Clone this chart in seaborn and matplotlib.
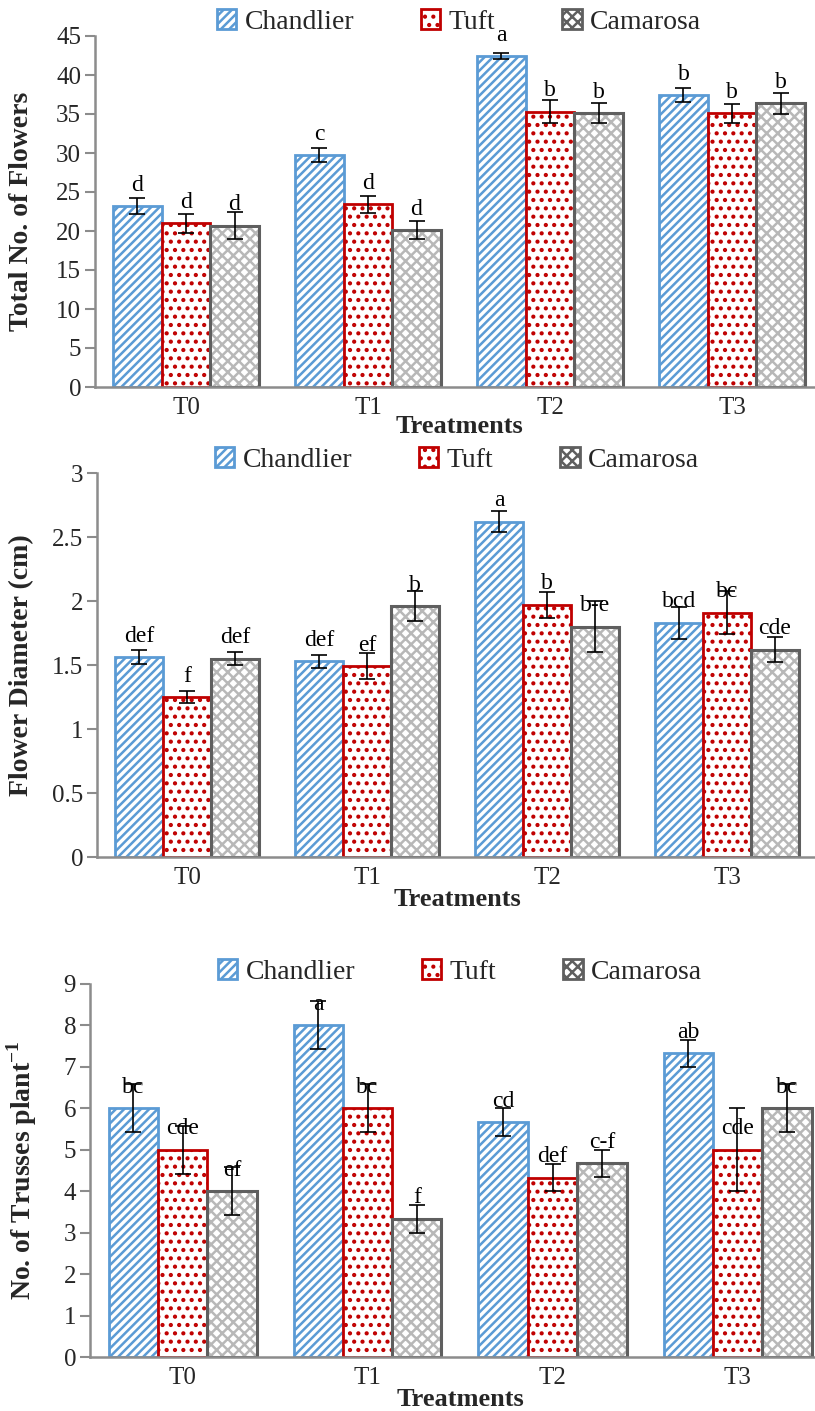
import numpy as np
import pandas as pd
import matplotlib
matplotlib.use('Agg')
import matplotlib.pyplot as plt
import seaborn as sns
from matplotlib.patches import Patch, Rectangle
from matplotlib.ticker import MultipleLocator, FuncFormatter

# --- data ---
treatments = ['T0', 'T1', 'T2', 'T3']
cultivars = ['Chandlier', 'Tuft', 'Camarosa']

# Total No. of Flowers
flowers_chandlier = [23.2, 29.7, 42.4, 37.4]
flowers_tuft = [21.0, 23.4, 35.3, 35.1]
flowers_camarosa = [20.7, 20.1, 35.1, 36.4]
flowers_err_chandlier = [1.0, 0.9, 0.4, 0.9]
flowers_err_tuft = [1.2, 1.1, 1.5, 1.2]
flowers_err_camarosa = [1.7, 1.15, 1.25, 1.35]
flowers_let_chandlier = ['d', 'c', 'a', 'b']
flowers_let_tuft = ['d', 'd', 'b', 'b']
flowers_let_camarosa = ['d', 'd', 'b', 'b']

# Flower Diameter (cm)
diam_chandlier = [1.56, 1.53, 2.62, 1.83]
diam_tuft = [1.25, 1.49, 1.97, 1.91]
diam_camarosa = [1.55, 1.96, 1.80, 1.62]
diam_err_chandlier = [0.055, 0.05, 0.08, 0.125]
diam_err_tuft = [0.05, 0.10, 0.10, 0.17]
diam_err_camarosa = [0.05, 0.115, 0.20, 0.10]
diam_let_chandlier = ['def', 'def', 'a', 'bcd']
diam_let_tuft = ['f', 'ef', 'b', 'bc']
diam_let_camarosa = ['def', 'b', 'b-e', 'cde']

# No. of Trusses plant-1
trusses_chandlier = [6.0, 8.0, 5.67, 7.33]
trusses_tuft = [5.0, 6.0, 4.33, 5.0]
trusses_camarosa = [4.0, 3.33, 4.67, 6.0]
trusses_err_chandlier = [0.58, 0.58, 0.33, 0.33]
trusses_err_tuft = [0.58, 0.58, 0.33, 1.0]
trusses_err_camarosa = [0.58, 0.33, 0.33, 0.58]
trusses_let_chandlier = ['bc', 'a', 'cd', 'ab']
trusses_let_tuft = ['cde', 'bc', 'def', 'cde']
trusses_let_camarosa = ['ef', 'f', 'c-f', 'bc']

# --- styling ---
sns.set_theme(style='white')
plt.rcParams['font.family'] = ['Liberation Serif', 'DejaVu Serif']
plt.rcParams['mathtext.fontset'] = 'custom'
plt.rcParams['mathtext.rm'] = 'Liberation Serif'
plt.rcParams['mathtext.bf'] = 'Liberation Serif:bold'
plt.rcParams['hatch.linewidth'] = 1.8

hatches = ['////', '..', 'xxx']
hatch_colors = ['#5b9bd5', '#c00000', '#b8b8b8']
edge_colors = ['#5b9bd5', '#c00000', '#5f5f5f']
axis_gray = '#8c8c8c'


def make_frame(ch, tu, ca):
    return pd.DataFrame({
        'Treatment': treatments * 3,
        'Cultivar': np.repeat(cultivars, len(treatments)),
        'value': ch + tu + ca,
    })


def draw_panel(ax, df, errs, letters, ylabel, ymax, ystep, ylab_x, leg_y, xlab_y):
    sns.barplot(data=df, x='Treatment', y='value', hue='Cultivar',
                hue_order=cultivars, order=treatments, palette=['white'] * 3,
                errorbar=None, width=0.8, gap=0, ax=ax, legend=False)
    bar_groups = list(ax.containers)
    for i, cont in enumerate(bar_groups):
        xs, ys = [], []
        for p in cont.patches:
            p.set_facecolor('white')
            p.set_hatch(hatches[i])
            p.set_edgecolor(hatch_colors[i])
            p.set_linewidth(2.0)
            if i == 2:
                # darker outline over the lighter hatch
                ax.add_patch(Rectangle(p.get_xy(), p.get_width(), p.get_height(),
                                       fill=False, edgecolor=edge_colors[i],
                                       linewidth=2.2, zorder=p.get_zorder() + 0.1))
            xs.append(p.get_x() + p.get_width() / 2)
            ys.append(p.get_height())
        ax.errorbar(xs, ys, yerr=errs[i], fmt='none', ecolor='black',
                    elinewidth=1.2, capsize=6, capthick=1.2, zorder=5)
        for x, y, t in zip(xs, ys, letters[i]):
            ax.annotate(t, (x, y), xytext=(0, 21), textcoords='offset pixels',
                        ha='center', va='center', fontsize=17, color='black', zorder=6)

    ax.set_xlim(-0.5, 3.5)
    ax.set_ylim(0, ymax)
    ax.yaxis.set_major_locator(MultipleLocator(ystep))
    ax.yaxis.set_major_formatter(FuncFormatter(lambda v, pos: '{:g}'.format(round(v, 2))))
    ax.set_xticks(range(4))
    ax.set_xticklabels(treatments)
    ax.set_xticks([-0.5, 0.5, 1.5, 2.5, 3.5], minor=True)
    ax.tick_params(axis='x', which='major', length=0, labelsize=18, pad=7)
    ax.tick_params(axis='x', which='minor', length=7, width=1.5, color=axis_gray, direction='out')
    ax.tick_params(axis='y', length=7, width=1.5, color=axis_gray, direction='out',
                   labelsize=18, left=True, pad=3)
    for side in ['top', 'right']:
        ax.spines[side].set_visible(False)
    for side in ['left', 'bottom']:
        ax.spines[side].set_color(axis_gray)
        ax.spines[side].set_linewidth(1.8)

    ax.set_ylabel(ylabel, fontsize=20, fontweight='bold')
    ax.yaxis.set_label_coords(ylab_x, 0.5)
    ax.set_xlabel('Treatments', fontsize=19, fontweight='bold')
    ax.xaxis.set_label_coords(0.5, xlab_y)

    handles = [Patch(facecolor='white', edgecolor=edge_colors[i] if i == 2 else hatch_colors[i],
                     hatch=hatches[i], linewidth=2.0) for i in range(3)]
    ax.legend(handles, cultivars, loc='center', bbox_to_anchor=(0.5, leg_y), ncol=3,
              frameon=False, fontsize=20, handlelength=0.7, handleheight=0.7,
              handletextpad=0.3, columnspacing=2.4, borderaxespad=0)


fig = plt.figure(figsize=(8.15, 14.11), dpi=100)
H = 1411.0
W = 815.0
ax1 = fig.add_axes([95 / W, (H - 387) / H, 728 / W, 351 / H])
ax2 = fig.add_axes([97 / W, (H - 857) / H, 720 / W, 384 / H])
ax3 = fig.add_axes([90 / W, (H - 1357) / H, 740 / W, 373 / H])

draw_panel(ax1, make_frame(flowers_chandlier, flowers_tuft, flowers_camarosa),
           [flowers_err_chandlier, flowers_err_tuft, flowers_err_camarosa],
           [flowers_let_chandlier, flowers_let_tuft, flowers_let_camarosa],
           'Total No. of Flowers', 45, 5, -0.084, 1.04, -0.08)

draw_panel(ax2, make_frame(diam_chandlier, diam_tuft, diam_camarosa),
           [diam_err_chandlier, diam_err_tuft, diam_err_camarosa],
           [diam_let_chandlier, diam_let_tuft, diam_let_camarosa],
           'Flower Diameter (cm)', 3, 0.5, -0.0875, 1.034, -0.082)

draw_panel(ax3, make_frame(trusses_chandlier, trusses_tuft, trusses_camarosa),
           [trusses_err_chandlier, trusses_err_tuft, trusses_err_camarosa],
           [trusses_let_chandlier, trusses_let_tuft, trusses_let_camarosa],
           r'No. of Trusses plant$^{\mathbf{-1}}$', 9, 1, -0.069, 1.032, -0.082)

fig.savefig('out.png', dpi=100, facecolor='white')
